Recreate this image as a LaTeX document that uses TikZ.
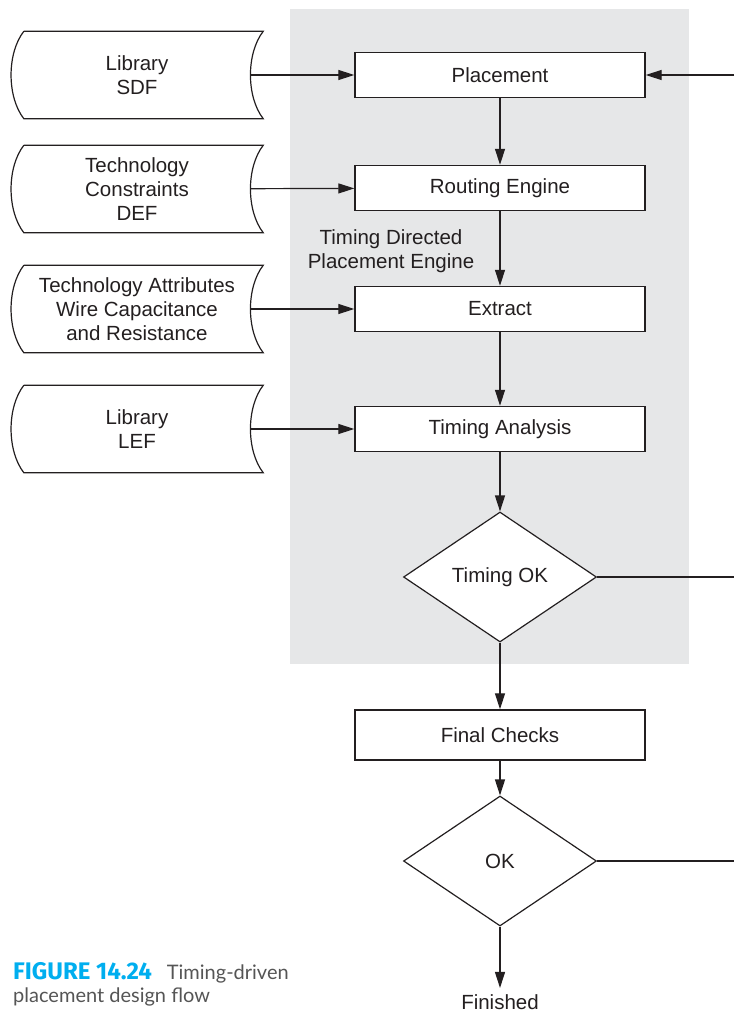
\documentclass[tikz,border=0pt]{standalone}
\usepackage{fontspec}
\setmainfont{Liberation Sans}
\newfontfamily\figfont{Fira Sans}
\newfontfamily\capfont{Lato}
\usetikzlibrary{positioning,arrows.meta,calc,shapes.geometric}
\definecolor{Ink}{HTML}{231F20}
\definecolor{Panel}{HTML}{E6E7E8}
\definecolor{FigCyan}{HTML}{00AEEF}
\definecolor{CapGray}{HTML}{555555}
\newcommand{\Body}{\fontsize{20.5}{24}\selectfont}
\newcommand{\Cap}{\fontsize{20}{23}\selectfont}
\newcommand{\storeshape}[1]{%
  \draw[edge] (#1.north west) -- ($(#1.north east)+(13,0)$)
    .. controls ($(#1.north east)+(-4,22)$) and ($(#1.south east)+(-4,-22)$) .. ($(#1.south east)+(13,0)$)
    -- (#1.south west)
    .. controls ($(#1.south west)+(-17,-22)$) and ($(#1.north west)+(-17,22)$) .. (#1.north west);}
\tikzset{
  edge/.style={draw=Ink, line width=1.2pt},
  stepbox/.style={draw=Ink, line width=1.4pt, fill=white, minimum width=290pt,
                  minimum height=45pt, inner sep=0pt, font=\Body, text=Ink},
  test/.style={diamond, draw=Ink, line width=1.2pt, fill=white, minimum width=193pt,
               minimum height=130pt, inner sep=0pt, font=\Body, text=Ink},
  store/.style={minimum width=226pt, minimum height=87pt, inner sep=0pt,
                align=center, font=\Body, text=Ink},
  flow/.style={-{Triangle[length=16pt,width=10pt]}, line width=1.2pt, Ink},
}
\begin{document}
\begin{tikzpicture}[x=1pt, y=-1pt]
  \useasboundingbox (0,0) rectangle (734,1012);
  \fill[Panel] (290,9) rectangle (689,664);

  \node[stepbox] (place) at (500,75) {Placement};
  \node[stepbox] (route) at (500,188) {Routing Engine};
  \node[stepbox] (extract) at (500,309) {Extract};
  \node[stepbox] (timing) at (500,429) {Timing Analysis};
  \node[test] (tok) at (500,577) {Timing OK};
  \node[stepbox, minimum height=50pt] (final) at (500,735) {Final Checks};
  \node[test] (ok) at (500,861) {OK};
  \node[font=\Body, text=Ink, anchor=base, inner sep=6pt] (done) at (500,1009) {Finished};
  \node[font=\Body, text=Ink, align=center] (tdpe) at (391,251)
    {Timing Directed\\Placement Engine};

  \node[store] (sdf) at (137,75) {Library\\SDF};
  \node[store] (tcon) at (137,189) {Technology\\Constraints\\DEF};
  \node[store] (tattr) at (137,309) {Technology Attributes\\Wire Capacitance\\and Resistance};
  \node[store] (lef) at (137,429) {Library\\LEF};
  \foreach \s in {sdf,tcon,tattr,lef} {\storeshape{\s}}

  \coordinate (back) at (734,75);
  \coordinate (tokout) at (734,577);
  \coordinate (okout) at (734,861);

  \draw[flow] (sdf) -- (place);
  \draw[flow] (tcon) -- (route);
  \draw[flow] (tattr) -- (extract);
  \draw[flow] (lef) -- (timing);
  \draw[flow] (back) -- (place);
  \draw[flow] (place) -- (route);
  \draw[flow] (route) -- (extract);
  \draw[flow] (extract) -- (timing);
  \draw[flow] (timing) -- (tok);
  \draw[flow] (tok) -- (final);
  \draw[flow] (final) -- (ok);
  \draw[flow] (ok) -- (done);
  \draw[edge] (tok) -- (tokout);
  \draw[edge] (ok) -- (okout);

  \node[anchor=base west, inner sep=0pt, font=\Cap, text=CapGray] (fig) at (13,979)
    {{\figfont\bfseries\fontsize{24}{24}\selectfont\color{FigCyan}FIGURE 14.24}\hspace{15pt}{\capfont Timing-driven}};
  \node[anchor=base west, inner sep=0pt, font=\Cap\capfont, text=CapGray] (figsub) at (13,1002)
    {placement design flow};
\end{tikzpicture}
\end{document}
